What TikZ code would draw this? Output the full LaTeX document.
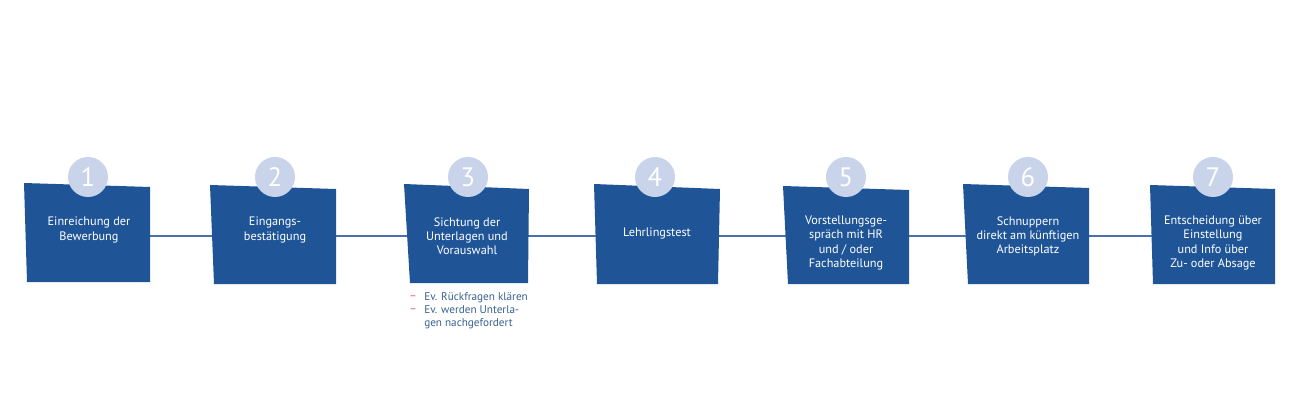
\documentclass[tikz,border=0pt]{standalone}
\usepackage{fontspec}
\setmainfont{PT Sans}
\definecolor{boxblue}{HTML}{1F5597}
\definecolor{circ}{HTML}{C9D3EA}
\definecolor{linec}{HTML}{4A72A8}
\definecolor{dashred}{HTML}{E0575B}
\begin{document}
\begin{tikzpicture}[x=0.75pt,y=-0.75pt,
  lbl/.style={text=white,align=center,font=\fontsize{9.2pt}{10.6pt}\selectfont},
  num/.style={circle,fill=circ,minimum size=30pt,inner sep=0,text=white,font=\fontsize{20pt}{20pt}\selectfont},
  conn/.style={draw=linec,line width=1pt},
  bx/.style={fill=boxblue},
  small/.style={font=\fontsize{8.4pt}{10pt}\selectfont,inner sep=0}]
\useasboundingbox (0,0) rectangle (1300,406);
\def\boxes{24/183/150/187/150/282/27/282/1,
210/185/336/189/336/284/214/284/2,
404/184/529/189/528/283/410/283/3,
594/184/720/189/718/284/597/284/4,
783/186/909/190/909/284/788/284/5,
963/184/1089/188/1089/284/968/284/6,
1150/185/1275/189/1275/284/1153/284/7}
\foreach \a/\b/\c/\d/\e/\f/\g/\h/\n in \boxes {
  \coordinate (b\n) at ({(\a+\c)/2},236);
}
\foreach \i/\j in {1/2,2/3,3/4,4/5,5/6,6/7} \draw[conn] (b\i) -- (b\j);
\foreach \a/\b/\c/\d/\e/\f/\g/\h/\n in \boxes {
  \fill[bx] (\a,\b) -- (\c,\d) -- (\e,\f) -- (\g,\h) -- cycle;
}
\node[num] (c1) at (88,177) {1};
\node[num] (c2) at (275,177) {2};
\node[num] (c3) at (468,177) {3};
\node[num] (c4) at (655,177) {4};
\node[num] (c5) at (846,177) {5};
\node[num] (c6) at (1028,177) {6};
\node[num] (c7) at (1213,177) {7};
\node[lbl] (t1) at (89,230) {Einreichung der\\Bewerbung};
\node[lbl] (t2) at (275,230) {Eingangs-\\bestätigung};
\node[lbl] (t3) at (467,236) {Sichtung der\\Unterlagen und\\Vorauswahl};
\node[lbl] (t4) at (657,233) {Lehrlingstest};
\node[lbl] (t5) at (846,243) {Vorstellungsge-\\spräch mit HR\\und / oder\\Fachabteilung};
\node[lbl] (t6) at (1028,236) {Schnuppern\\direkt am künftigen\\Arbeitsplatz};
\node[lbl] (t7) at (1213,243) {Entscheidung über\\Einstellung\\und Info über\\Zu- oder Absage};
\node[anchor=north west,align=left,text=boxblue!75!gray,small] (note) at (424,292)
 {Ev. Rückfragen klären\\Ev. werden Unterla-\\gen nachgefordert};
\node[text=dashred,small] (d1) at (413,298) {–};
\node[text=dashred,small] (d2) at (413,311) {–};
\end{tikzpicture}
\end{document}
